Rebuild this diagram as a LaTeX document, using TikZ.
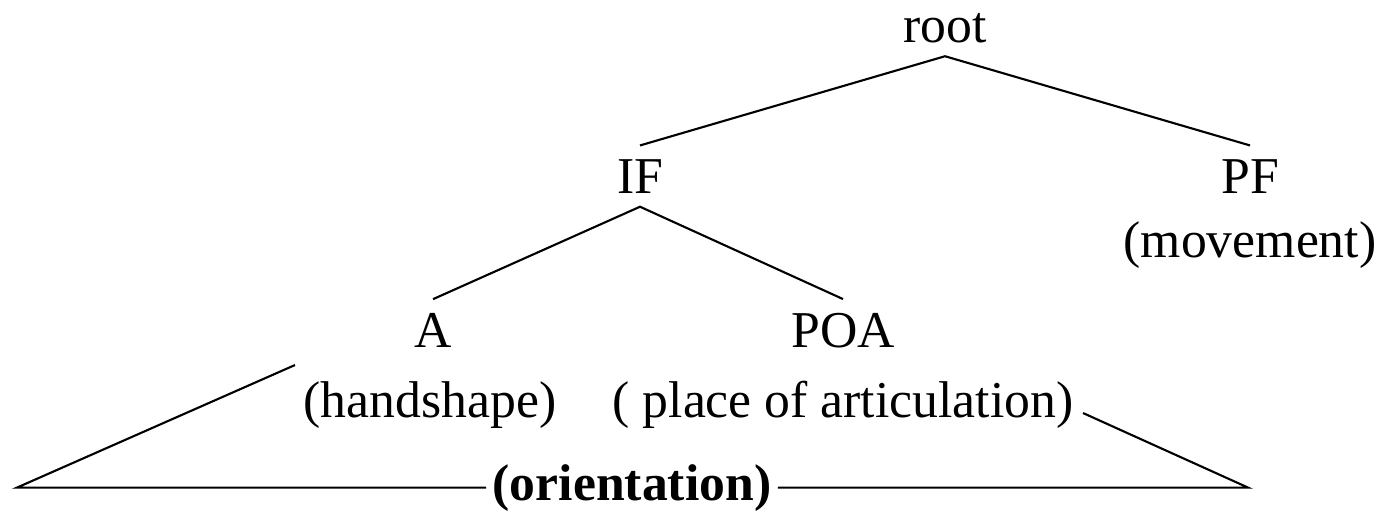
\documentclass[tikz,border=0pt]{standalone}
\usepackage{fontspec}
\setmainfont{Liberation Serif}
\begin{document}
\begin{tikzpicture}[x=0.01cm,y=-0.01cm]
	\tikzstyle{every node}=[inner sep=0.13cm, anchor=base, font=\fontsize{14.7}{17}\selectfont];
	\tikzstyle{branch}=[line width=0.6pt];
	\useasboundingbox (0,0) rectangle (1389,511);
	% tree
	\node (root) at (945, 42) {root};
	\node (IF) at (640, 193) {IF};
	\node (PF) at (1250, 193) {PF};
	\node (movement) at (1250, 257) {(movement)};
	\node (A) at (433, 347) {A};
	\node (POA) at (843, 347) {POA};
	\node (handshape) at (430, 417) {(handshape)};
	\node (place) at (843, 417) {( place of articulation)};
	\node [font=\fontsize{14.7}{17}\selectfont\bfseries, inner xsep=0.06cm] (orient) at (632, 500) {(orientation)};
	\draw[branch] (IF.north) -- (root.south) -- (PF.north);
	\draw[branch] (A.north) -- (IF.south) -- (POA.north);
	% triangle
	\coordinate (tl) at (295, 365);
	\coordinate (tr) at (1083, 413);
	\coordinate (lx) at (17, 0);
	\coordinate (rx) at (1248, 0);
	\draw[branch] (tl) -- (orient.west -| lx) -- (orient.west);
	\draw[branch] (orient.east) -- (orient.east -| rx) -- (tr);
\end{tikzpicture}
\end{document}
